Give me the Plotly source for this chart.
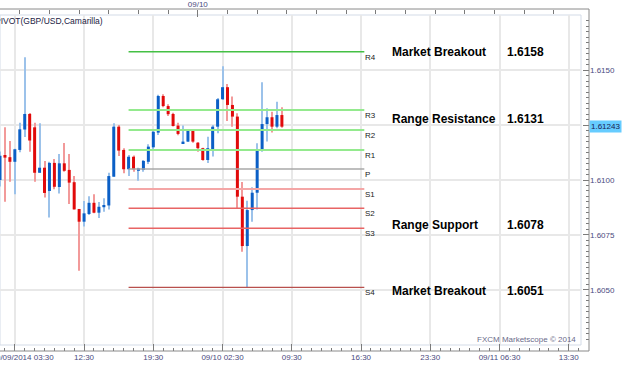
import plotly.graph_objects as go
import pandas as pd

# ---- data (30-minute GBP/USD candles) ----
start_time = "2014-09-09 04:00"
opens = [1.61000, 1.61114, 1.61104, 1.61083, 1.61137, 1.61230, 1.61301, 1.61240, 1.61033, 1.61056,
         1.60950, 1.61078, 1.60968, 1.61076, 1.61046, 1.60990, 1.60868, 1.60810, 1.60845, 1.60896,
         1.60851, 1.60876, 1.60884, 1.61015, 1.61243, 1.61137, 1.61049, 1.61106, 1.61042, 1.61046,
         1.61083, 1.61149, 1.61216, 1.61383, 1.61337, 1.61301, 1.61248, 1.61167, 1.61175, 1.61228,
         1.61170, 1.61145, 1.61091, 1.61140, 1.61243, 1.61368, 1.61423, 1.61342, 1.61289, 1.60924,
         1.60699, 1.60863, 1.60942, 1.61135, 1.61255, 1.61286, 1.61243, 1.61296]
highs = [1.61130, 1.61240, 1.61178, 1.61142, 1.61261, 1.61560, 1.61305, 1.61261, 1.61259, 1.61087,
         1.61083, 1.61096, 1.61119, 1.61169, 1.61119, 1.61018, 1.60868, 1.60904, 1.60926, 1.60935,
         1.60900, 1.60917, 1.61033, 1.61259, 1.61251, 1.61145, 1.61114, 1.61112, 1.61056, 1.61091,
         1.61163, 1.61228, 1.61388, 1.61391, 1.61345, 1.61307, 1.61261, 1.61248, 1.61231, 1.61233,
         1.61173, 1.61147, 1.61197, 1.61251, 1.61374, 1.61518, 1.61438, 1.61380, 1.61304, 1.60991,
         1.60906, 1.60967, 1.61167, 1.61446, 1.61327, 1.61311, 1.61357, 1.61332]
lows = [1.60970, 1.60901, 1.60992, 1.60935, 1.61126, 1.61196, 1.61129, 1.60992, 1.61032, 1.60920,
        1.60829, 1.60958, 1.60938, 1.61038, 1.60891, 1.60865, 1.60586, 1.60788, 1.60840, 1.60848,
        1.60827, 1.60855, 1.60866, 1.61015, 1.61109, 1.61031, 1.61018, 1.61038, 1.60997, 1.61038,
        1.61073, 1.61137, 1.61205, 1.61332, 1.61292, 1.61244, 1.61204, 1.61164, 1.61173, 1.61170,
        1.61129, 1.61088, 1.61078, 1.61107, 1.61213, 1.61365, 1.61269, 1.61243, 1.60871, 1.60673,
        1.60511, 1.60810, 1.60866, 1.61129, 1.61175, 1.61216, 1.61236, 1.61238]
closes = [1.61110, 1.61102, 1.61083, 1.61140, 1.61231, 1.61301, 1.61180, 1.61033, 1.61056, 1.60941,
          1.61078, 1.60969, 1.61076, 1.61042, 1.60988, 1.60866, 1.60810, 1.60848, 1.60896, 1.60851,
          1.60878, 1.60886, 1.61018, 1.61243, 1.61134, 1.61049, 1.61106, 1.61049, 1.61053, 1.61087,
          1.61152, 1.61220, 1.61383, 1.61337, 1.61300, 1.61246, 1.61210, 1.61175, 1.61228, 1.61175,
          1.61145, 1.61091, 1.61145, 1.61243, 1.61368, 1.61423, 1.61342, 1.61289, 1.60924, 1.60699,
          1.60863, 1.60942, 1.61137, 1.61255, 1.61286, 1.61243, 1.61296, 1.61243]
times = pd.date_range(start_time, periods=len(opens), freq="30min")

pivot_names = ["R4", "R3", "R2", "R1", "P", "S1", "S2", "S3", "S4"]
pivot_values = [1.61585, 1.61319, 1.61228, 1.61137, 1.61050, 1.60959, 1.60871, 1.60780, 1.60511]
pivot_start = "2014-09-09 17:00"
pivot_end = "2014-09-10 16:50"

callout_names = ["Market Breakout", "Range Resistance", "Range Support", "Market Breakout"]
callout_values = ["1.6158", "1.6131", "1.6078", "1.6051"]

last_price = 1.61243

x_tick_vals = ["2014-09-09 05:30", "2014-09-09 12:30", "2014-09-09 19:30", "2014-09-10 02:30",
               "2014-09-10 09:30", "2014-09-10 16:30", "2014-09-10 23:30", "2014-09-11 06:30",
               "2014-09-11 13:30"]
x_tick_text = ["\u00a0" * 7 + "09/09/2014 03:30", "12:30", "19:30", "09/10 02:30", "09:30", "16:30",
               "23:30", "09/11 06:30", "13:30"]
y_tick_vals = [1.6050, 1.6075, 1.6100, 1.6125, 1.6150]
y_tick_text = ["1.6050", "1.6075", "1.6100", "", "1.6150"]

# ---- styles ----
pivot_colors = ["#44c044", "#94ea8e", "#94ea8e", "#94ea8e", "#a8a8a8",
                "#f4a6a6", "#e86464", "#e86464", "#b8504d"]
pivot_widths = [1.5, 2, 2, 2, 1.5, 2, 1.5, 1.5, 1.2]
BLUE, RED = "#0b5fc6", "#e10a0a"
BLUE_W, RED_W = "#9cc2ea", "#f29a9a"
TXT = "#4a4a7e"
FONT = "Liberation Sans"
X_RANGE = ["2014-09-09 04:00", "2014-09-11 14:44:24"]
Y_RANGE = [1.60248, 1.61752]
MS_PX = 364000  # ~1 px in ms

up = [c >= o for o, c in zip(opens, closes)]
body_base = [min(o, c) for o, c in zip(opens, closes)]
body_h = [abs(c - o) for o, c in zip(opens, closes)]
wick_h = [h - l for h, l in zip(highs, lows)]

fig = go.Figure()
# pivot lines
for name, val, col, w in zip(pivot_names, pivot_values, pivot_colors, pivot_widths):
    fig.add_trace(go.Scatter(x=[pivot_start, pivot_end], y=[val, val], mode="lines",
                             line=dict(color=col, width=w), hoverinfo="skip"))
# wicks
fig.add_trace(go.Bar(x=times, y=wick_h, base=lows, width=MS_PX * 1.0,
                     marker=dict(color=[BLUE_W if u else RED_W for u in up], line=dict(width=0)),
                     hoverinfo="skip"))
# bodies
fig.add_trace(go.Bar(x=times, y=body_h, base=body_base, width=MS_PX * 3.0,
                     marker=dict(color=[BLUE if u else RED for u in up], line=dict(width=0)),
                     hoverinfo="skip"))
# dummy for top axis
fig.add_trace(go.Scatter(x=[times[0]], y=[closes[0]], xaxis="x2", yaxis="y", mode="markers",
                         marker=dict(opacity=0), hoverinfo="skip"))

annotations = []
for name, val in zip(pivot_names, pivot_values):
    annotations.append(dict(x="2014-09-10 16:52", y=val, xref="x", yref="y", text=name,
                            showarrow=False, xanchor="left", yanchor="top", yshift=1, xshift=-2,
                            font=dict(family=FONT, size=8, color="#222222")))
callout_y = [1.61584, 1.61278, 1.60795, 1.60494]
for name, val, yy in zip(callout_names, callout_values, callout_y):
    annotations.append(dict(x=392 / 589, y=yy, xref="paper", yref="y", text=name, showarrow=False,
                            xanchor="left", yanchor="middle", xshift=-2,
                            font=dict(family=FONT, size=12, color="#000000", weight="bold")))
    annotations.append(dict(x=507 / 589, y=yy, xref="paper", yref="y", text=val, showarrow=False,
                            xanchor="left", yanchor="middle", xshift=-2,
                            font=dict(family=FONT, size=12, color="#000000", weight="bold")))
annotations.append(dict(x=1, y=last_price, xref="paper", yref="y", text=f"{last_price:.5f}",
                        showarrow=False, xanchor="left", yanchor="middle", bgcolor="#66ccff",
                        borderpad=1, xshift=0,
                        font=dict(family=FONT, size=8, color="#1a1a50")))
annotations.append(dict(x=0, y=(351 - 21) / 342, xref="paper", yref="paper",
                        text="PIVOT(GBP/USD,Camarilla)", showarrow=False, xanchor="left",
                        yanchor="middle", xshift=-7,
                        font=dict(family=FONT, size=8.5, color="#222244")))
annotations.append(dict(x=578 / 589, y=(351 - 339) / 342, xref="paper", yref="paper",
                        text="FXCM Marketscope © 2014", showarrow=False, xanchor="right",
                        yanchor="middle", font=dict(family=FONT, size=8, color="#6a6a8a")))

fig.update_layout(
    template="none", width=623, height=366,
    margin=dict(l=0, r=34, t=9, b=15, pad=0),
    paper_bgcolor="white", plot_bgcolor="white", showlegend=False, barmode="overlay",
    xaxis=dict(type="date", domain=[0, 581 / 589], anchor="free", position=0, range=X_RANGE,
               tickmode="array", tickvals=x_tick_vals, ticktext=x_tick_text,
               ticks="inside", ticklen=7, tickcolor="#7a7a7a", tickwidth=1,
               showgrid=True, gridcolor="#e8e8e8", gridwidth=1.5, showline=False, zeroline=False,
               tickfont=dict(family=FONT, size=8, color=TXT), ticklabeloverflow="allow",
               automargin=False,
               minor=dict(ticks="inside", ticklen=3, tickcolor="#7a7a7a", dtick=3600000,
                          tick0="2014-09-09 04:30", showgrid=False)),
    xaxis2=dict(type="date", overlaying="x", side="top", anchor="free", position=1, range=X_RANGE,
                tickmode="array", tickvals=["2014-09-10 00:00"], ticktext=["09/10"],
                ticks="inside", ticklen=7, tickcolor="#7a7a7a", showgrid=False, showline=False,
                zeroline=False, automargin=False,
                tickfont=dict(family=FONT, size=8, color=TXT),
                minor=dict(ticks="inside", ticklen=4, tickcolor="#7a7a7a", dtick=10800000,
                           tick0="2014-09-10 00:00", showgrid=False)),
    yaxis=dict(domain=[6 / 342, 336 / 342], side="right", anchor="free", position=1, range=Y_RANGE,
               tickmode="array", tickvals=y_tick_vals, ticktext=y_tick_text,
               ticks="inside", ticklen=6, tickcolor="#7a7a7a", showgrid=True, gridcolor="#e8e8e8",
               gridwidth=1.5, showline=False, zeroline=False, automargin=False,
               tickfont=dict(family=FONT, size=8, color=TXT),
               minor=dict(ticks="inside", ticklen=3, tickcolor="#7a7a7a", dtick=0.00025,
                          tick0=1.6, showgrid=False)),
    shapes=[
        dict(type="rect", xref="x domain", yref="y domain", x0=0, x1=1, y0=0, y1=1,
             line=dict(color="#d3dbe7", width=1), layer="below"),
        dict(type="line", xref="paper", yref="paper", x0=0, x1=1, y0=1, y1=1,
             line=dict(color="#8a8a8a", width=1)),
        dict(type="line", xref="paper", yref="paper", x0=1, x1=1, y0=0, y1=1,
             line=dict(color="#8a8a8a", width=1)),
        dict(type="line", xref="paper", yref="paper", x0=0, x1=1, y0=0, y1=0,
             line=dict(color="#8a8a8a", width=1)),
    ],
    annotations=annotations,
)

fig.write_html("out.html", config={"displayModeBar": False},
               post_script="document.body.style.margin='0';document.body.style.overflow='hidden';")
